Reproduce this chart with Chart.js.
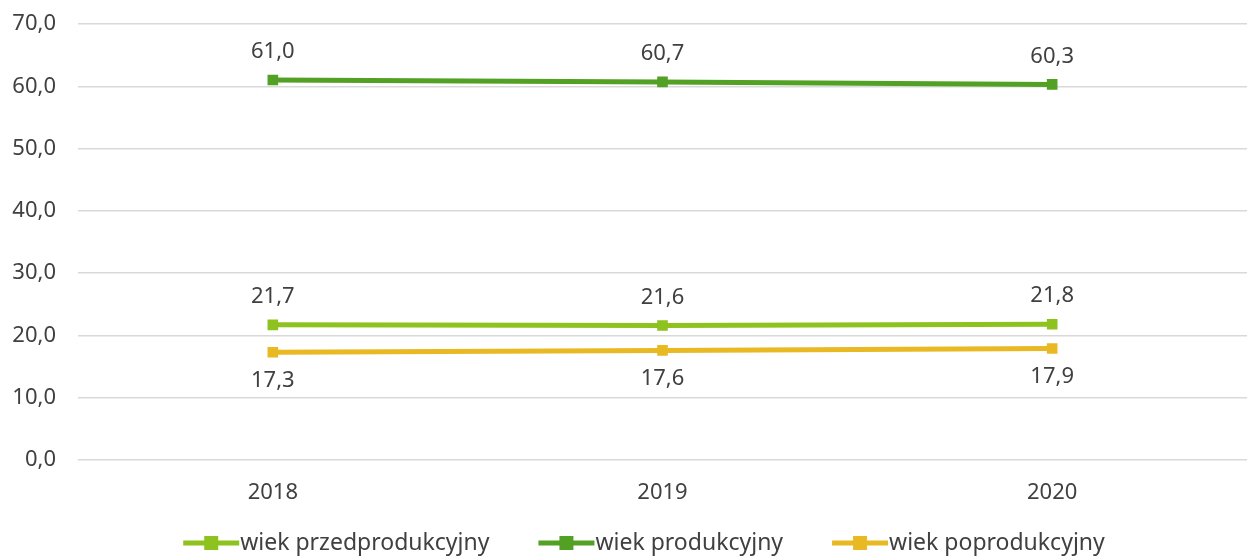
<!DOCTYPE html>
<html><head><meta charset="utf-8">
<script src="https://cdn.jsdelivr.net/npm/chart.js@4"></script>
<style>html,body{margin:0;padding:0;background:#fff;overflow:hidden}#wrap{width:1247px;height:556px}canvas{display:block}</style>
</head><body><div id="wrap"><canvas id="c"></canvas></div>
<script>
const categories = ['2018', '2019', '2020'];
const przedprodukcyjny = [21.7, 21.6, 21.8];
const produkcyjny = [61.0, 60.7, 60.3];
const poprodukcyjny = [17.3, 17.6, 17.9];
const seriesNames = ['wiek przedprodukcyjny', 'wiek produkcyjny', 'wiek poprodukcyjny'];
const yTicks = [0, 10, 20, 30, 40, 50, 60, 70];

const FONT = '"Noto Sans", "Open Sans", sans-serif';
const colors = ['#8DC21F', '#52A024', '#E8B923'];
const fmt = v => v.toFixed(1).replace('.', ',');

const labelPlugin = {
  id: 'vals',
  afterDatasetsDraw(chart) {
    const ctx = chart.ctx;
    ctx.save();
    ctx.font = '22px ' + FONT;
    ctx.fillStyle = '#404040';
    ctx.textAlign = 'center';
    ctx.textBaseline = 'middle';
    chart.data.datasets.forEach((ds, i) => {
      const meta = chart.getDatasetMeta(i);
      meta.data.forEach((pt, j) => {
        const off = ds.labelBelow ? 28 : -28;
        ctx.fillText(fmt(ds.data[j]), pt.x, pt.y + off);
      });
    });
    ctx.restore();
  }
};

const legendPlugin = {
  id: 'lineLegend',
  afterDraw(chart) {
    const ctx = chart.ctx;
    ctx.save();
    ctx.font = '23px ' + FONT;
    ctx.textBaseline = 'middle';
    const iconW = 56, gap = 49;
    const items = chart.data.datasets.map(d => ({ label: d.label, color: d.borderColor, w: ctx.measureText(d.label).width }));
    const total = items.reduce((s, it) => s + iconW + it.w, 0) + gap * (items.length - 1);
    let x = chart.width / 2 + 19 - total / 2;
    const y = chart.height - 13;
    items.forEach(it => {
      ctx.strokeStyle = it.color;
      ctx.lineWidth = 5;
      ctx.beginPath();
      ctx.moveTo(x, y); ctx.lineTo(x + iconW, y);
      ctx.stroke();
      ctx.fillStyle = it.color;
      ctx.fillRect(x + iconW / 2 - 7, y - 7, 14, 14);
      ctx.fillStyle = '#404040';
      ctx.textAlign = 'left';
      ctx.fillText(it.label, x + iconW + 1, y);
      x += iconW + 1 + it.w + gap;
    });
    ctx.restore();
  }
};

const mk = (i, data, below) => ({
  label: seriesNames[i], data, labelBelow: below,
  borderColor: colors[i], backgroundColor: colors[i],
  borderWidth: 5, pointStyle: 'rect', pointRadius: 7.5, pointHoverRadius: 7.5,
  pointBorderWidth: 0, tension: 0
});

new Chart(document.getElementById('c'), {
  type: 'line',
  data: {
    labels: categories,
    datasets: [mk(0, przedprodukcyjny, false), mk(1, produkcyjny, false), mk(2, poprodukcyjny, true)]
  },
  options: {
    responsive: true, maintainAspectRatio: false, animation: false,
    layout: { autoPadding: false, padding: { top: 24, right: -13, left: 0, bottom: 0 } },
    plugins: { legend: { display: false }, tooltip: { enabled: false } },
    scales: {
      x: {
        offset: true,
        grid: { display: false, drawTicks: false },
        border: { display: false },
        ticks: { padding: 20, color: '#404040', font: { size: 22, family: FONT } },
        afterFit(s) { s.height = 96; s.paddingLeft = 0; s.paddingRight = 0; }
      },
      y: {
        min: 0, max: 70,
        afterBuildTicks(s) { s.ticks = yTicks.map(v => ({ value: v })); },
        grid: { color: '#d9d9d9', lineWidth: 1.5, drawTicks: false },
        border: { display: false },
        ticks: { padding: 22, color: '#404040', font: { size: 22, family: FONT }, callback: v => fmt(v) },
        afterFit(s) { s.width = 78; s.paddingTop = 0; s.paddingBottom = 0; }
      }
    }
  },
  plugins: [labelPlugin, legendPlugin]
});
</script></body></html>
